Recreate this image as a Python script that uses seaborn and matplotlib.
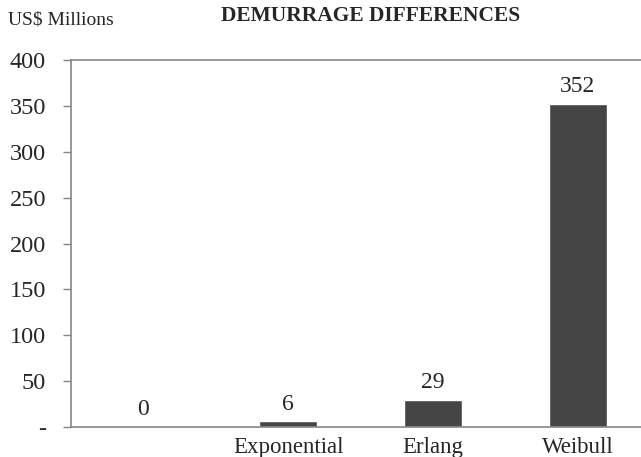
import numpy as np
import pandas as pd
import seaborn as sns
import matplotlib.pyplot as plt

categories = ['', 'Exponential', 'Erlang', 'Weibull']
values = [0, 6, 29, 352]
yticks = [0, 50, 100, 150, 200, 250, 300, 350, 400]
ytick_labels = ['-', '50', '100', '150', '200', '250', '300', '350', '400']

sns.set_theme(style='white')
plt.rcParams['font.family'] = ['Liberation Serif', 'DejaVu Serif']

df = pd.DataFrame({'dist': categories, 'diff': values})

fig = plt.figure(figsize=(6.41, 4.57), dpi=100)
ax = fig.add_axes([71 / 641, 30 / 457, 579 / 641, 367 / 457])
sns.barplot(data=df, x='dist', y='diff', color='#454545', width=0.4,
            saturation=1, ax=ax)

ax.set_xlim(-0.5, 3.5)
ax.set_ylim(0, 400)
ax.set_yticks(yticks)
ax.set_yticklabels(ytick_labels, fontsize=17.5)
ax.set_xticks(range(len(categories)))
ax.set_xticklabels(categories, fontsize=16.5)
ax.tick_params(axis='y', length=6, width=1, color='#868686', pad=12, left=True)
ax.tick_params(axis='x', length=0, pad=7)
ax.set_xlabel('')
ax.set_ylabel('')

for s in ['left', 'bottom', 'top']:
    ax.spines[s].set_visible(True)
    ax.spines[s].set_color('#868686')
    ax.spines[s].set_linewidth(1.2)
ax.spines['right'].set_visible(False)

for i, v in enumerate(values):
    ax.annotate(str(v), (i, v), xytext=(0, 5), textcoords='offset points',
                ha='center', va='bottom', fontsize=17)

fig.text(8 / 641, 1 - 20 / 457, 'US$ Millions', fontsize=14, va='center', ha='left')
fig.text(371 / 641, 1 - 16 / 457, 'DEMURRAGE DIFFERENCES', fontsize=15.5,
         fontweight='bold', va='center', ha='center')

fig.savefig('out.png', dpi=100)
